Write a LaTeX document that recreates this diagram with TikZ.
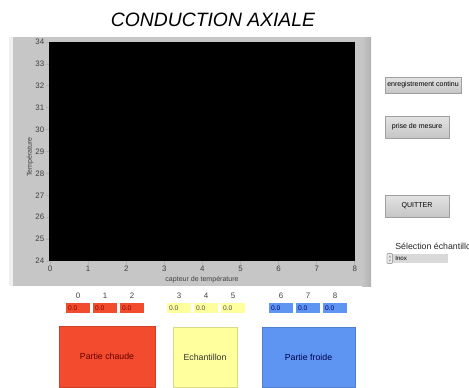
\documentclass[tikz,border=0pt]{standalone}
\usepackage{fontspec}
\setmainfont{Liberation Sans}
\usetikzlibrary{positioning}
\definecolor{cHOT}{HTML}{F24B2E}
\definecolor{cMID}{HTML}{FFFF9E}
\definecolor{cCOLD}{HTML}{5E95F2}
\definecolor{cPANEL}{HTML}{C6C6C6}

\begin{document}
\begin{tikzpicture}[x=0.02cm, y=-0.02cm,
  ticklbl/.style={font=\fontsize{4.5}{5}\selectfont, inner sep=0.5pt, text=black!75},
  btn/.style={draw=gray!75, top color=gray!22, bottom color=gray!45, inner sep=0,
    font=\fontsize{4}{5}\selectfont},
  ind/.style={minimum width=0.44cm, minimum height=0.2cm, inner sep=1pt,
    text width=0.4cm, align=left, font=\fontsize{3.8}{4}\selectfont},
  numlbl/.style={font=\fontsize{4.5}{5}\selectfont, inner sep=0.5pt, text=black!75},
  part/.style={inner sep=0, minimum height=1.2cm, font=\fontsize{5}{6}\selectfont}
]
\useasboundingbox (0,0) rectangle (469,387);

\node[font=\fontsize{11}{13}\selectfont\itshape] (title) at (213,20) {CONDUCTION AXIALE};

\fill[cPANEL] (9,37) rectangle (371,286);
\fill[gray!12] (9,37) rectangle (13,286);
\shade[left color=cPANEL, right color=gray!60] (362,37) rectangle (371,286);
\fill[black] (49,42) rectangle (355,261);

\foreach \v in {24,...,34} {
  \pgfmathsetmacro\yy{261-(\v-24)*21.9}
  \draw[gray!60, thin] (45.5,\yy) -- (49,\yy);
  \node[ticklbl, anchor=east] (y\v) at (45.5,\yy) {\v};
}
\foreach \u in {0,...,8} {
  \pgfmathsetmacro\xx{50+\u*38.1}
  \draw[gray!60, thin] (\xx,261) -- (\xx,265);
  \node[ticklbl, anchor=north] (x\u) at (\xx,265) {\u};
}
\node[ticklbl, rotate=90, font=\fontsize{4}{5}\selectfont] (ylab) at (30,157) {Température};
\node[ticklbl, font=\fontsize{4}{5}\selectfont] (xlab) at (202,279.5) {capteur de température};

\node[btn, minimum width=1.52cm, minimum height=0.32cm] (rec) at (423,85) {enregistrement continu};
\node[btn, minimum width=1.28cm, minimum height=0.44cm] (mes) at (417,127) {prise de mesure};
\node[btn, minimum width=1.28cm, minimum height=0.44cm] (quit) at (417,206) {QUITTER};

\node[anchor=west, inner sep=0, font=\fontsize{5}{6}\selectfont, text=black!85] (sel) at (395,246) {Sélection échantillon};
\node[fill=gray!30, anchor=west, minimum width=1.1cm, minimum height=0.18cm, inner sep=1pt,
  text width=1.02cm, align=left, font=\fontsize{3.5}{4}\selectfont] (inox) at (393,258.5) {Inox};
\draw[gray!70, fill=gray!15, rounded corners=0.5pt] (387,253.5) rectangle (392.5,263.5);
\fill[gray!70] (388.5,257.5) -- (391,257.5) -- (389.75,255) -- cycle;
\fill[gray!70] (388.5,259.5) -- (391,259.5) -- (389.75,262) -- cycle;

\foreach \i in {0,1,2} {
  \node[ind, fill=cHOT, text=red!50!black] (d\i) at (78+27*\i,308) {0.0};
  \node[numlbl, above=1.5pt of d\i] (n\i) {\i};
}
\foreach \i in {3,4,5} {
  \node[ind, fill=cMID, text=black!70] (d\i) at (179+27*\i-81,308) {0.0};
  \node[numlbl, above=1.5pt of d\i] (n\i) {\i};
}
\foreach \i in {6,7,8} {
  \node[ind, fill=cCOLD, text=blue!40!black] (d\i) at (281+27*\i-162,308) {0.0};
  \node[numlbl, above=1.5pt of d\i] (n\i) {\i};
}

\node[part, fill=cHOT, draw=cHOT!85!black, minimum width=1.92cm, minimum height=1.22cm,
  text=red!40!black] (hot) at (107,356.5) {Partie chaude};
\node[part, fill=cMID, draw=cMID!85!black, minimum width=1.28cm,
  text=black!80] (smp) at (205,357) {Echantillon};
\node[part, fill=cCOLD, draw=cCOLD!85!black, minimum width=1.86cm,
  text=blue!30!black] (cold) at (308.5,357) {Partie froide};
\end{tikzpicture}
\end{document}
